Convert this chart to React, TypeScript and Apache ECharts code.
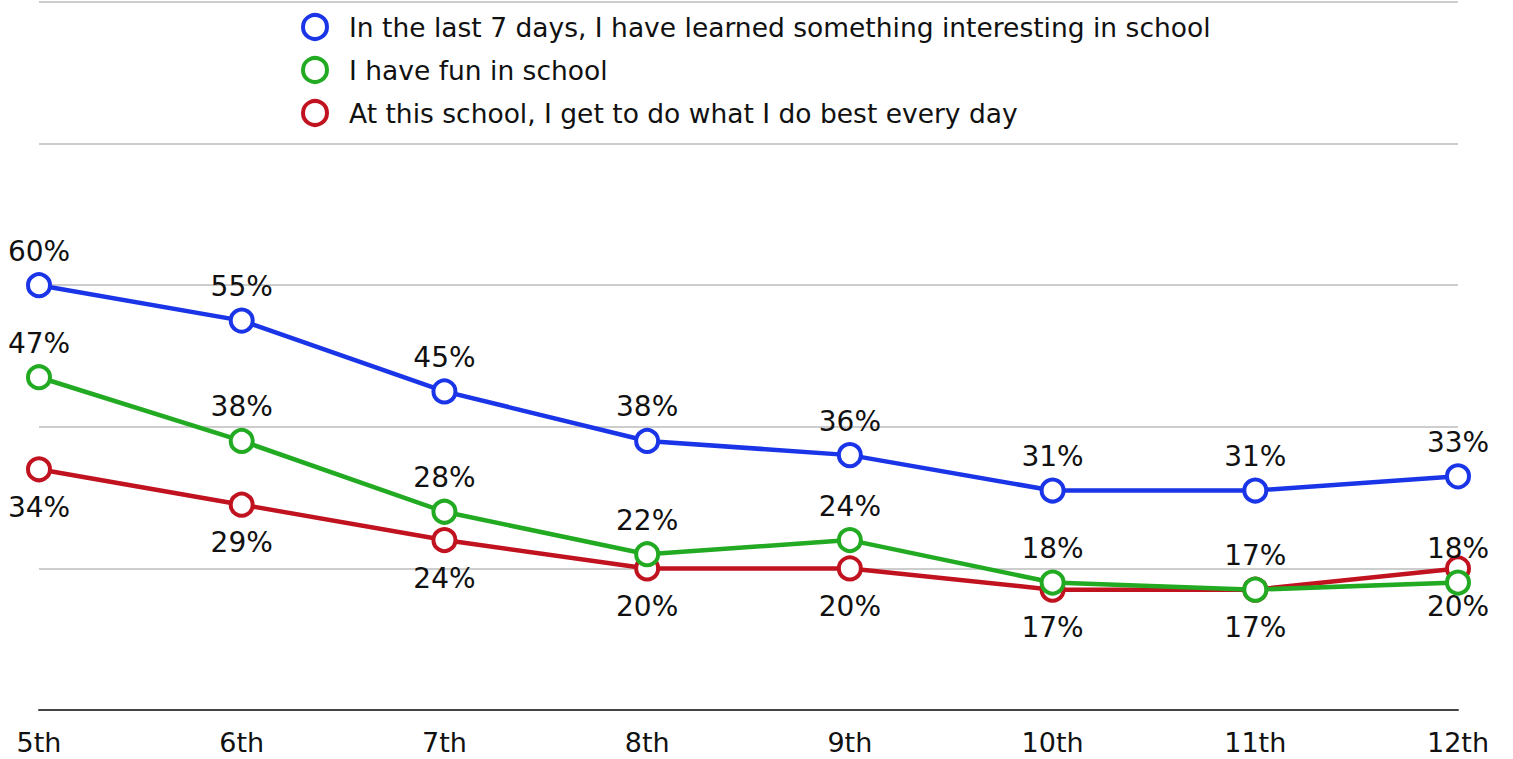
import React, { useEffect, useRef } from "react";
import * as echarts from "echarts";

const grades = ["5th", "6th", "7th", "8th", "9th", "10th", "11th", "12th"];
const learnedName = "In the last 7 days, I have learned something interesting in school";
const funName = "I have fun in school";
const bestName = "At this school, I get to do what I do best every day";
const learned = [60, 55, 45, 38, 36, 31, 31, 33];
const fun = [47, 38, 28, 22, 24, 18, 17, 18];
const best = [34, 29, 24, 20, 20, 17, 17, 20];

const BLUE = "#1a35e8";
const GREEN = "#22aa22";
const RED = "#c1121f";
const FONT = "'DejaVu Sans', 'Liberation Sans', Arial, sans-serif";

function makeSeries(name: string, data: number[], color: string, pos: "top" | "bottom", z: number) {
  return {
    name,
    type: "line",
    data,
    z,
    symbol: "circle",
    symbolSize: 22,
    lineStyle: { color, width: 4.5 },
    itemStyle: { color: "#fff", borderColor: color, borderWidth: 4 },
    label: {
      show: true,
      position: pos,
      distance: pos === "top" ? 7 : 11,
      formatter: "{c}%",
      fontSize: 28,
      color: "#111",
      fontFamily: FONT,
    },
  };
}

export default function App() {
  const ref = useRef<HTMLDivElement>(null);
  useEffect(() => {
    if (!ref.current) return;
    const chart = echarts.init(ref.current, undefined, { renderer: "svg" });
    chart.setOption({
      animation: false,
      backgroundColor: "#fff",
      grid: { left: 39, right: 55, top: 2, bottom: 49 },
      legend: {
        orient: "vertical",
        left: 296,
        top: 8,
        itemWidth: 24,
        itemHeight: 24,
        itemGap: 15,
        icon: "circle",
        textStyle: {
          fontSize: 26.5,
          lineHeight: 24,
          color: "#111",
          fontFamily: FONT,
          padding: [0, 0, 0, 17],
        },
        data: [
          { name: learnedName, itemStyle: { color: "#fff", borderColor: BLUE, borderWidth: 4 } },
          { name: funName, itemStyle: { color: "#fff", borderColor: GREEN, borderWidth: 4 } },
          { name: bestName, itemStyle: { color: "#fff", borderColor: RED, borderWidth: 4 } },
        ],
      },
      xAxis: {
        type: "category",
        data: grades,
        boundaryGap: false,
        axisLine: { lineStyle: { color: "#444", width: 2 } },
        axisTick: { show: false },
        axisLabel: { fontSize: 27, color: "#111", fontFamily: FONT, margin: 19 },
      },
      yAxis: {
        type: "value",
        min: 0,
        max: 100,
        interval: 20,
        axisLabel: { show: false },
        axisLine: { show: false },
        axisTick: { show: false },
        splitLine: { lineStyle: { color: "#bcbcbc", width: 1.5 } },
      },
      series: [
        makeSeries(learnedName, learned, BLUE, "top", 3),
        makeSeries(bestName, best, RED, "bottom", 4),
        makeSeries(funName, fun, GREEN, "top", 5),
      ],
    });
    return () => chart.dispose();
  }, []);
  return <div ref={ref} style={{ position: "absolute", left: 0, top: 0, width: 1513, height: 759 }} />;
}
